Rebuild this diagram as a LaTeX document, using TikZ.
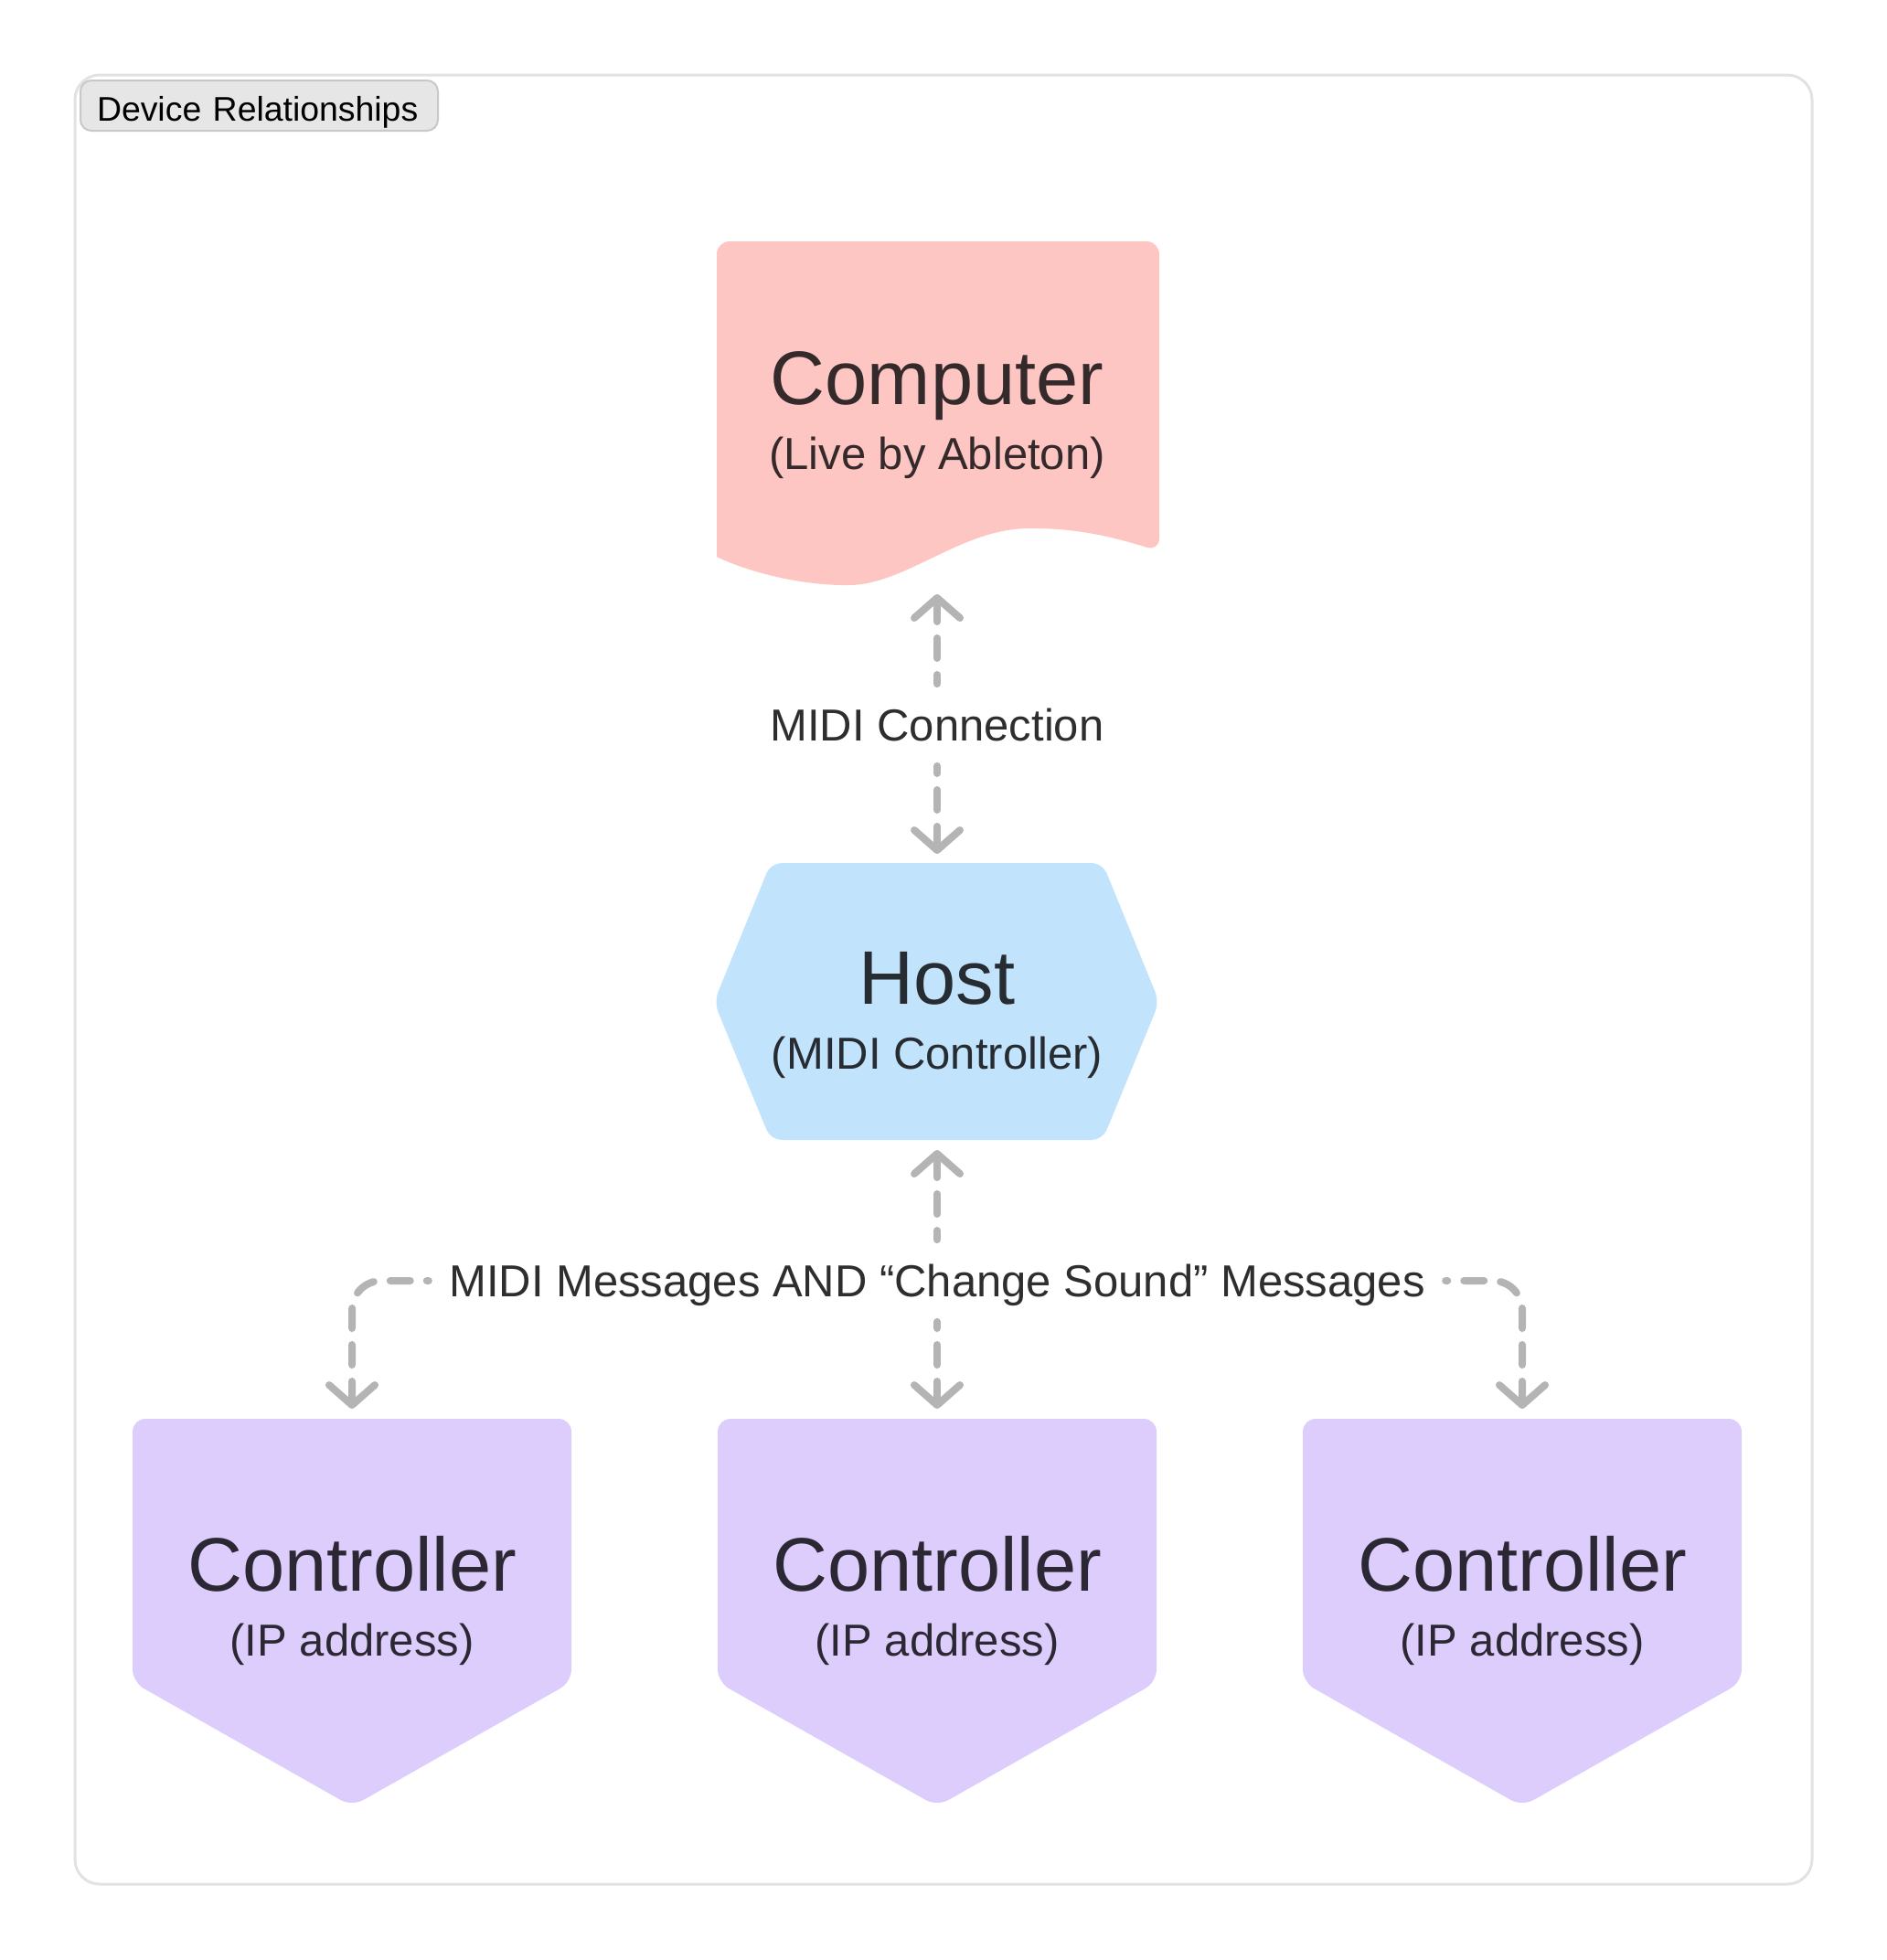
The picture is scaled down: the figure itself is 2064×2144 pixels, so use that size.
\documentclass[tikz,border=0pt]{standalone}
\usepackage{fontspec}
\setmainfont{Liberation Sans}
\usetikzlibrary{arrows.meta}
\definecolor{compfill}{HTML}{FEC6C2}
\definecolor{hostfill}{HTML}{C2E3FC}
\definecolor{ctrlfill}{HTML}{DDCDFC}
\definecolor{comptext}{HTML}{352A2B}
\definecolor{hosttext}{HTML}{262C31}
\definecolor{ctrltext}{HTML}{2C2833}
\definecolor{labeltext}{HTML}{2E2E2E}
\definecolor{linegray}{HTML}{B4B4B4}
\definecolor{framegray}{HTML}{E2E2E2}
\definecolor{tagfill}{HTML}{E6E6E6}
\definecolor{tagline}{HTML}{C8C8C8}
\begin{document}
\begin{tikzpicture}[x=0.5pt,y=-0.5pt,
    title/.style={font=\fontsize{41.5}{48}\selectfont,anchor=base,inner sep=0pt},
    sub/.style={font=\fontsize{24.5}{30}\selectfont,anchor=base,inner sep=0pt},
    msg/.style={font=\fontsize{24.5}{30}\selectfont,text=labeltext,text height=18pt,text depth=0.5pt,
      inner xsep=11pt,inner ysep=13pt},
    link/.style={draw=linegray,line width=4pt,line cap=round,dash pattern=on 11pt off 9pt,
      {Straight Barb[length=11pt,width=25pt,line cap=round,line join=round]}-}]
  \useasboundingbox (0,0) rectangle (2064,2144);
  \draw[framegray,line width=1.5pt,rounded corners=13.5pt] (82,82) rectangle (1982,2061);
  \node[fill=tagfill,draw=tagline,line width=1pt,rounded corners=6pt,anchor=north west,
    minimum height=27.5pt,inner xsep=9pt,inner ysep=4pt,text width=177.5pt,align=left,
    text height=17pt,text depth=0.1pt,font=\fontsize{18.7}{22}\selectfont] (tag) at (87,87) {Device Relationships};

  \fill[compfill,rounded corners=7pt] (1025,264) -- (1268,264) -- (1268,603) [sharp corners]
    .. controls (1210,585) and (1170,577) .. (1122,578)
    .. controls (1050,580) and (990,639) .. (930,640)
    .. controls (870,641) and (810,622) .. (784,609) [rounded corners=7pt] -- (784,264) -- cycle;
  \node[title,text=comptext] (computer) at (1025,442) {Computer};
  \node[sub,text=comptext] (computer-sub) at (1025,513) {(Live by Ableton)};

  \fill[hostfill,rounded corners=6pt] (1025,944) -- (1206,944) -- (1268,1096) -- (1206,1247)
    -- (843,1247) -- (781,1096) -- (843,944) -- cycle;
  \node[title,text=hosttext] (host) at (1025,1098) {Host};
  \node[sub,text=hosttext] (host-sub) at (1025,1169) {(MIDI Controller)};

  \fill[ctrlfill,rounded corners=7pt] (385,1552) -- (625,1552) -- (625,1840) -- (385,1976)
    -- (145,1840) -- (145,1552) -- cycle;
  \fill[ctrlfill,rounded corners=7pt] (1025,1552) -- (1265,1552) -- (1265,1840) -- (1025,1976)
    -- (785,1840) -- (785,1552) -- cycle;
  \fill[ctrlfill,rounded corners=7pt] (1665,1552) -- (1905,1552) -- (1905,1840) -- (1665,1976)
    -- (1425,1840) -- (1425,1552) -- cycle;
  \node[title,text=ctrltext] (ctrl-a) at (385,1740) {Controller};
  \node[sub,text=ctrltext] (ctrl-a-sub) at (385,1811) {(IP address)};
  \node[title,text=ctrltext] (ctrl-b) at (1025,1740) {Controller};
  \node[sub,text=ctrltext] (ctrl-b-sub) at (1025,1811) {(IP address)};
  \node[title,text=ctrltext] (ctrl-c) at (1665,1740) {Controller};
  \node[sub,text=ctrltext] (ctrl-c-sub) at (1665,1811) {(IP address)};

  \coordinate (computer-s) at (1025,650);
  \coordinate (host-n) at (1025,934);
  \coordinate (host-s) at (1025,1258);
  \coordinate (ctrl-a-n) at (385,1541);
  \coordinate (ctrl-b-n) at (1025,1541);
  \coordinate (ctrl-c-n) at (1665,1541);

  \node[msg] (conn) at (1025,793) {MIDI Connection};
  \draw[link] (computer-s) -- (conn);
  \draw[link] (host-n) -- (conn);

  \node[msg] (msgs) at (1025,1401) {MIDI Messages AND “Change Sound” Messages};
  \draw[link] (host-s) -- (msgs);
  \draw[link,rounded corners=16pt] (ctrl-a-n) |- (msgs.west);
  \draw[link] (ctrl-b-n) -- (msgs);
  \draw[link,rounded corners=16pt] (ctrl-c-n) |- (msgs.east);
\end{tikzpicture}
\end{document}
